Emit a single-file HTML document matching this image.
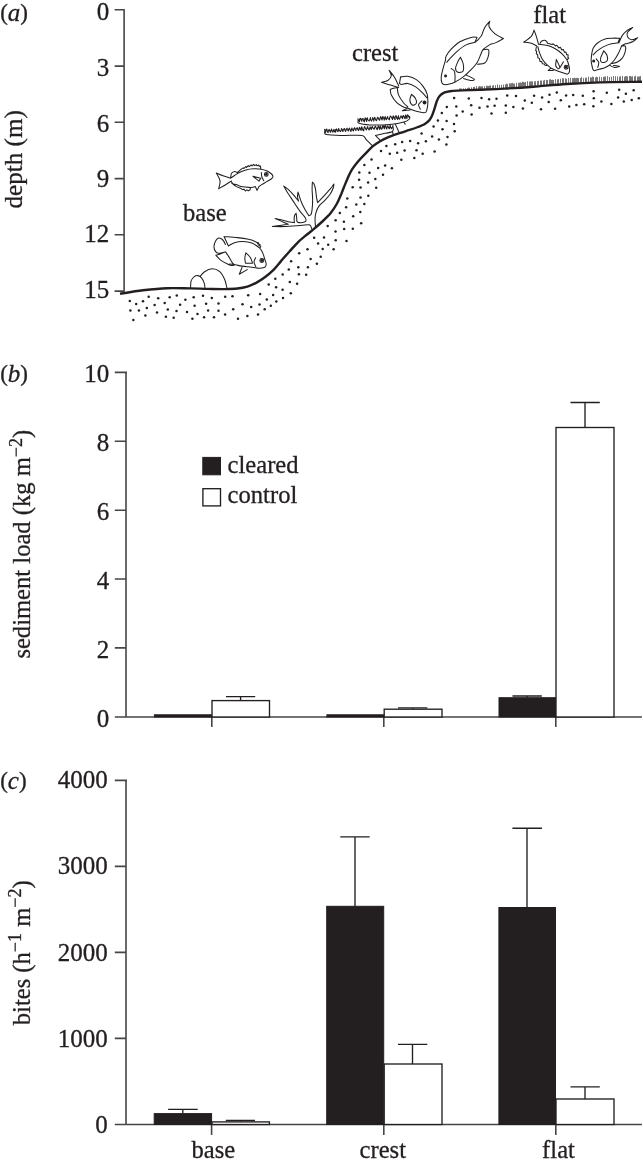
<!DOCTYPE html>
<html lang="en">
<head>
<meta charset="utf-8">
<title>Figure</title>
<style>
html,body{margin:0;padding:0;background:#fff;}
body{width:643px;height:1163px;overflow:hidden;}
svg{display:block;}
text{font-family:"Liberation Serif","Times New Roman",serif;fill:#231f20;stroke:#231f20;stroke-width:.3px;}
.n{font-size:25px;text-anchor:end;}
.l{font-size:24.6px;}
.c{font-size:24.6px;text-anchor:middle;}
.p{font-size:25px;}
.pi{font-style:italic;}
.pp{font-size:23px;}
.ax{stroke:#464646;stroke-width:1.6;fill:none;}
.bk{fill:#231f20;stroke:#231f20;stroke-width:1;}
.wh{fill:#fff;stroke:#231f20;stroke-width:1.35;}
.eb{stroke:#231f20;stroke-width:1.35;fill:none;}
</style>
</head>
<body>
<svg width="643" height="1163" viewBox="0 0 643 1163">
<rect width="643" height="1163" fill="#fff"/>

<!-- ================= PANEL A ================= -->
<g id="panelA">
<text class="p" x="0.2" y="20.8"><tspan class="pp" dy="-0.8">(</tspan><tspan class="pi" dy="0.8">a</tspan><tspan class="pp" dy="-0.8">)</tspan></text>
<path class="ax" d="M124.1 9.8V291.8M114.6 9.8H124.8M114.6 66.1H124.1M114.6 122.3H124.1M114.6 178.6H124.1M114.6 234.8H124.1M114.6 291.1H124.1"/>
<text class="n" x="109.3" y="20.4">0</text>
<text class="n" x="109.3" y="76.1">3</text>
<text class="n" x="109.3" y="131.7">6</text>
<text class="n" x="109.3" y="186.8">9</text>
<text class="n" x="109.3" y="241.9">12</text>
<text class="n" x="109.3" y="297.5">15</text>
<text class="c" style="font-size:25.1px" transform="translate(21.5 159.3) rotate(-90)">depth (m)</text>
<text class="l" x="183" y="221">base</text>
<text class="l" x="352" y="60.6">crest</text>
<text class="l" x="533.3" y="23.3">flat</text>
<!--ILLUSTRATION-->
<path d="M120.0 293.8C123.8 293.2 135.2 291.2 143.0 290.3C150.8 289.4 159.2 288.5 167.0 288.2C174.8 287.9 183.2 288.3 190.0 288.4C196.8 288.5 202.2 288.8 208.0 288.9C213.8 289.0 220.1 289.2 225.0 289.1C229.9 289.0 233.7 288.9 237.4 288.5C241.1 288.1 244.3 287.5 247.4 286.6C250.5 285.7 253.2 284.4 256.1 282.9C259.0 281.3 261.9 279.5 264.8 277.3C267.7 275.1 270.8 272.5 273.5 269.8C276.2 267.1 278.3 264.2 281.0 261.1C283.7 258.0 286.8 254.4 289.7 251.2C292.6 248.0 295.8 244.3 298.4 241.8C300.9 239.3 302.6 238.2 305.0 236.2C307.4 234.2 310.3 232.1 313.1 229.7C315.9 227.3 318.9 224.7 321.8 222.0C324.7 219.3 328.0 216.4 330.5 213.3C333.0 210.2 335.2 206.8 337.0 203.5C338.8 200.2 339.9 197.1 341.4 193.7C342.8 190.3 344.1 186.7 345.7 182.9C347.3 179.1 349.1 174.6 351.2 170.9C353.3 167.2 356.2 163.8 358.5 161.0C360.8 158.2 362.8 156.2 365.2 153.8C367.6 151.4 370.1 148.5 372.6 146.4C375.1 144.3 377.5 142.8 380.1 141.2C382.8 139.6 385.3 138.4 388.5 137.1C391.7 135.8 396.1 134.3 399.5 133.2C402.9 132.0 405.6 131.2 408.7 130.2C411.8 129.2 415.4 128.0 418.0 127.0C420.6 126.0 422.6 125.3 424.5 124.2C426.4 123.1 427.9 121.8 429.2 120.4C430.4 119.0 431.1 117.7 432.0 115.8C432.9 113.9 433.5 111.6 434.3 109.3C435.1 107.0 435.8 104.0 436.6 101.8C437.5 99.6 438.1 97.7 439.4 96.2C440.6 94.7 442.3 93.5 444.1 92.7C445.9 91.9 447.0 91.6 450.0 91.2C453.0 90.8 457.2 90.7 462.1 90.4C467.0 90.2 472.4 90.0 479.5 89.7C486.6 89.4 495.4 89.1 504.4 88.6C513.4 88.1 523.0 87.5 533.4 86.7C543.8 85.9 555.6 84.7 566.7 84.0C577.8 83.3 587.5 82.8 600.0 82.4C612.5 82.0 635.0 81.9 642.0 81.8" fill="none" stroke="#231f20" stroke-width="2.4" stroke-linecap="butt"/>
<path d="M459.5 89.9 v-1.4M460.5 89.9 v-1.5M461.5 89.8 v-1.3M463.5 89.7 v-1.4M465.5 89.6 v-1.4M467.5 89.6 v-1.7M468.5 89.5 v-2.0M469.5 89.5 v-1.8M471.5 89.4 v-2.1M473.5 89.3 v-2.3M474.5 89.3 v-2.5M476.5 89.2 v-2.9M478.5 89.1 v-2.6M479.5 89.1 v-3.0M480.5 89.0 v-2.7M481.5 89.0 v-2.5M482.5 89.0 v-2.8M484.5 88.9 v-2.6M486.5 88.8 v-3.1M487.5 88.8 v-3.0M488.5 88.7 v-2.7M489.5 88.7 v-3.1M490.5 88.6 v-3.2M492.5 88.6 v-2.9M493.5 88.5 v-3.3M495.5 88.4 v-3.2M497.5 88.3 v-3.9M499.5 88.2 v-3.3M501.5 88.1 v-3.3M503.5 88.0 v-3.5M505.5 87.9 v-3.6M506.5 87.9 v-4.3M507.5 87.8 v-3.9M509.5 87.7 v-4.5M510.5 87.6 v-4.1M511.5 87.6 v-4.4M512.5 87.5 v-4.6M513.5 87.4 v-3.8M514.5 87.4 v-3.8M516.5 87.2 v-4.4M518.5 87.1 v-4.3M519.5 87.1 v-4.4M520.5 87.0 v-4.6M521.5 86.9 v-4.2M522.5 86.8 v-5.1M523.5 86.8 v-4.9M524.5 86.7 v-4.3M525.5 86.6 v-4.6M527.5 86.5 v-5.4M529.5 86.4 v-4.9M530.5 86.3 v-4.9M531.5 86.2 v-4.8M532.5 86.1 v-4.9M534.5 86.0 v-4.6M535.5 85.9 v-4.7M537.5 85.8 v-4.6M538.5 85.7 v-4.9M540.5 85.5 v-5.0M541.5 85.4 v-4.9M543.5 85.3 v-4.8M544.5 85.2 v-5.3M546.5 85.0 v-5.1M547.5 84.9 v-4.9M549.5 84.7 v-5.2M550.5 84.6 v-5.5M551.5 84.6 v-4.6M552.5 84.5 v-4.7M553.5 84.4 v-4.5M555.5 84.2 v-5.1M557.5 84.1 v-4.8M558.5 84.0 v-4.9M560.5 83.8 v-5.1M562.5 83.7 v-5.5M563.5 83.6 v-5.4M565.5 83.5 v-5.2M566.5 83.4 v-4.6M568.5 83.3 v-5.3M570.5 83.1 v-5.2M572.5 83.0 v-4.9M573.5 83.0 v-4.9M574.5 82.9 v-5.1M575.5 82.9 v-4.7M576.5 82.8 v-4.9M577.5 82.7 v-4.8M578.5 82.7 v-4.6M580.5 82.6 v-4.7M581.5 82.5 v-5.4M583.5 82.4 v-4.5M585.5 82.3 v-4.7M586.5 82.3 v-4.6M588.5 82.2 v-5.5M590.5 82.1 v-4.9M591.5 82.1 v-4.6M592.5 82.0 v-5.5M593.5 82.0 v-5.0M595.5 81.9 v-4.6M596.5 81.9 v-5.2M597.5 81.9 v-4.8M599.5 81.8 v-5.2M601.5 81.7 v-4.5M603.5 81.7 v-4.9M604.5 81.7 v-5.0M605.5 81.7 v-5.3M607.5 81.6 v-5.5M609.5 81.6 v-4.6M611.5 81.5 v-4.8M613.5 81.5 v-5.4M615.5 81.5 v-5.3M617.5 81.5 v-5.0M619.5 81.4 v-4.8M620.5 81.4 v-5.1M622.5 81.4 v-5.5M624.5 81.4 v-4.7M625.5 81.4 v-5.3M626.5 81.4 v-5.3M627.5 81.4 v-5.0M629.5 81.3 v-5.2M630.5 81.3 v-5.3M631.5 81.3 v-4.8M632.5 81.3 v-5.1M634.5 81.3 v-4.9M635.5 81.3 v-5.5M637.5 81.2 v-4.6M638.5 81.2 v-4.7M639.5 81.2 v-4.8M640.5 81.2 v-5.1" fill="none" stroke="#231f20" stroke-width="0.62"/>
<g fill="#231f20"><circle cx="283.0" cy="297.9" r="1.25"/><circle cx="456.3" cy="106.5" r="1.25"/><circle cx="425.9" cy="141.3" r="1.25"/><circle cx="206.1" cy="303.7" r="1.25"/><circle cx="496.5" cy="98.8" r="1.25"/><circle cx="270.8" cy="305.8" r="1.25"/><circle cx="136.2" cy="304.1" r="1.25"/><circle cx="307.5" cy="249.2" r="1.25"/><circle cx="353.2" cy="216.3" r="1.25"/><circle cx="542.1" cy="97.6" r="1.25"/><circle cx="298.9" cy="274.2" r="1.25"/><circle cx="397.2" cy="152.8" r="1.25"/><circle cx="414.3" cy="158.1" r="1.25"/><circle cx="481.5" cy="98.1" r="1.25"/><circle cx="371.5" cy="159.4" r="1.25"/><circle cx="333.6" cy="249.2" r="1.25"/><circle cx="259.5" cy="304.4" r="1.25"/><circle cx="157.0" cy="312.6" r="1.25"/><circle cx="164.7" cy="303.0" r="1.25"/><circle cx="347.3" cy="198.5" r="1.25"/><circle cx="185.4" cy="299.8" r="1.25"/><circle cx="446.8" cy="107.0" r="1.25"/><circle cx="176.8" cy="295.5" r="1.25"/><circle cx="524.8" cy="100.6" r="1.25"/><circle cx="310.6" cy="259.1" r="1.25"/><circle cx="432.1" cy="136.6" r="1.25"/><circle cx="369.5" cy="172.7" r="1.25"/><circle cx="437.9" cy="120.4" r="1.25"/><circle cx="260.1" cy="294.1" r="1.25"/><circle cx="548.7" cy="102.1" r="1.25"/><circle cx="494.6" cy="105.7" r="1.25"/><circle cx="282.7" cy="274.6" r="1.25"/><circle cx="479.5" cy="107.8" r="1.25"/><circle cx="328.2" cy="244.7" r="1.25"/><circle cx="297.1" cy="283.8" r="1.25"/><circle cx="368.1" cy="182.4" r="1.25"/><circle cx="356.3" cy="204.6" r="1.25"/><circle cx="143.0" cy="301.2" r="1.25"/><circle cx="225.2" cy="296.8" r="1.25"/><circle cx="318.1" cy="243.5" r="1.25"/><circle cx="434.6" cy="151.4" r="1.25"/><circle cx="633.7" cy="90.2" r="1.25"/><circle cx="438.9" cy="139.4" r="1.25"/><circle cx="238.0" cy="318.8" r="1.25"/><circle cx="410.1" cy="141.0" r="1.25"/><circle cx="169.7" cy="297.3" r="1.25"/><circle cx="268.7" cy="284.4" r="1.25"/><circle cx="593.6" cy="91.3" r="1.25"/><circle cx="573.2" cy="95.0" r="1.25"/><circle cx="298.3" cy="267.3" r="1.25"/><circle cx="314.1" cy="237.7" r="1.25"/><circle cx="273.1" cy="294.9" r="1.25"/><circle cx="638.8" cy="98.2" r="1.25"/><circle cx="389.8" cy="153.7" r="1.25"/><circle cx="335.5" cy="231.4" r="1.25"/><circle cx="289.8" cy="281.9" r="1.25"/><circle cx="291.1" cy="261.3" r="1.25"/><circle cx="339.8" cy="212.9" r="1.25"/><circle cx="320.7" cy="256.8" r="1.25"/><circle cx="513.4" cy="107.0" r="1.25"/><circle cx="359.3" cy="172.4" r="1.25"/><circle cx="468.8" cy="98.6" r="1.25"/><circle cx="299.2" cy="253.3" r="1.25"/><circle cx="619.2" cy="89.8" r="1.25"/><circle cx="395.2" cy="144.2" r="1.25"/><circle cx="383.0" cy="174.8" r="1.25"/><circle cx="232.5" cy="296.3" r="1.25"/><circle cx="276.1" cy="287.2" r="1.25"/><circle cx="385.1" cy="165.6" r="1.25"/><circle cx="582.8" cy="95.7" r="1.25"/><circle cx="491.5" cy="113.4" r="1.25"/><circle cx="360.5" cy="197.5" r="1.25"/><circle cx="327.7" cy="226.0" r="1.25"/><circle cx="275.3" cy="278.7" r="1.25"/><circle cx="307.9" cy="267.2" r="1.25"/><circle cx="204.1" cy="317.3" r="1.25"/><circle cx="352.7" cy="187.2" r="1.25"/><circle cx="516.0" cy="96.0" r="1.25"/><circle cx="606.8" cy="92.7" r="1.25"/><circle cx="442.5" cy="129.2" r="1.25"/><circle cx="454.1" cy="97.9" r="1.25"/><circle cx="375.3" cy="179.1" r="1.25"/><circle cx="344.2" cy="228.9" r="1.25"/><circle cx="335.7" cy="240.2" r="1.25"/><circle cx="416.5" cy="150.2" r="1.25"/><circle cx="288.8" cy="269.6" r="1.25"/><circle cx="556.8" cy="92.6" r="1.25"/><circle cx="507.2" cy="95.5" r="1.25"/><circle cx="158.2" cy="298.3" r="1.25"/><circle cx="593.8" cy="98.3" r="1.25"/><circle cx="148.7" cy="296.8" r="1.25"/><circle cx="456.6" cy="115.4" r="1.25"/><circle cx="531.8" cy="102.8" r="1.25"/><circle cx="368.3" cy="195.8" r="1.25"/><circle cx="623.8" cy="101.6" r="1.25"/><circle cx="173.7" cy="317.7" r="1.25"/><circle cx="138.9" cy="310.6" r="1.25"/><circle cx="193.7" cy="297.3" r="1.25"/><circle cx="343.9" cy="221.8" r="1.25"/><circle cx="130.4" cy="310.6" r="1.25"/><circle cx="446.6" cy="121.0" r="1.25"/><circle cx="346.5" cy="240.9" r="1.25"/><circle cx="247.4" cy="316.1" r="1.25"/><circle cx="194.6" cy="305.8" r="1.25"/><circle cx="421.6" cy="133.6" r="1.25"/><circle cx="335.6" cy="220.3" r="1.25"/><circle cx="306.2" cy="274.7" r="1.25"/><circle cx="447.5" cy="136.9" r="1.25"/><circle cx="187.0" cy="311.9" r="1.25"/><circle cx="381.0" cy="151.1" r="1.25"/><circle cx="251.2" cy="307.1" r="1.25"/><circle cx="352.8" cy="228.8" r="1.25"/><circle cx="611.4" cy="104.0" r="1.25"/><circle cx="324.0" cy="237.4" r="1.25"/><circle cx="601.4" cy="101.6" r="1.25"/><circle cx="418.1" cy="143.2" r="1.25"/><circle cx="218.5" cy="303.5" r="1.25"/><circle cx="218.5" cy="310.7" r="1.25"/><circle cx="471.2" cy="105.3" r="1.25"/><circle cx="211.8" cy="298.0" r="1.25"/><circle cx="471.6" cy="114.5" r="1.25"/><circle cx="233.2" cy="309.2" r="1.25"/><circle cx="364.3" cy="204.1" r="1.25"/><circle cx="225.1" cy="314.6" r="1.25"/><circle cx="360.5" cy="187.4" r="1.25"/><circle cx="534.1" cy="95.7" r="1.25"/><circle cx="631.7" cy="100.1" r="1.25"/><circle cx="391.9" cy="168.2" r="1.25"/><circle cx="541.0" cy="109.2" r="1.25"/><circle cx="129.8" cy="300.9" r="1.25"/><circle cx="146.8" cy="307.9" r="1.25"/><circle cx="145.4" cy="315.5" r="1.25"/><circle cx="242.5" cy="304.3" r="1.25"/><circle cx="401.3" cy="159.8" r="1.25"/><circle cx="404.6" cy="150.6" r="1.25"/><circle cx="360.3" cy="211.9" r="1.25"/><circle cx="248.2" cy="295.2" r="1.25"/><circle cx="197.5" cy="314.0" r="1.25"/><circle cx="376.2" cy="187.8" r="1.25"/><circle cx="290.8" cy="293.2" r="1.25"/><circle cx="566.1" cy="95.6" r="1.25"/><circle cx="378.1" cy="168.1" r="1.25"/><circle cx="192.4" cy="318.8" r="1.25"/><circle cx="454.7" cy="131.3" r="1.25"/><circle cx="167.8" cy="309.6" r="1.25"/><circle cx="576.4" cy="105.1" r="1.25"/><circle cx="433.6" cy="126.4" r="1.25"/><circle cx="346.1" cy="207.2" r="1.25"/><circle cx="560.8" cy="100.3" r="1.25"/><circle cx="446.4" cy="144.6" r="1.25"/><circle cx="276.3" cy="301.5" r="1.25"/><circle cx="454.0" cy="123.9" r="1.25"/><circle cx="214.0" cy="317.2" r="1.25"/><circle cx="487.5" cy="106.4" r="1.25"/><circle cx="422.7" cy="153.7" r="1.25"/><circle cx="203.0" cy="295.8" r="1.25"/><circle cx="386.4" cy="145.9" r="1.25"/><circle cx="264.7" cy="309.3" r="1.25"/><circle cx="258.0" cy="314.5" r="1.25"/><circle cx="441.8" cy="112.9" r="1.25"/><circle cx="584.2" cy="104.3" r="1.25"/><circle cx="282.6" cy="289.8" r="1.25"/><circle cx="625.9" cy="93.8" r="1.25"/><circle cx="176.5" cy="311.0" r="1.25"/><circle cx="505.8" cy="112.8" r="1.25"/><circle cx="555.1" cy="108.7" r="1.25"/><circle cx="133.4" cy="320.0" r="1.25"/><circle cx="618.1" cy="97.5" r="1.25"/><circle cx="359.1" cy="179.7" r="1.25"/><circle cx="322.7" cy="249.0" r="1.25"/><circle cx="266.8" cy="299.6" r="1.25"/><circle cx="154.6" cy="305.0" r="1.25"/><circle cx="505.8" cy="105.4" r="1.25"/><circle cx="593.4" cy="106.2" r="1.25"/><circle cx="180.1" cy="304.7" r="1.25"/><circle cx="489.1" cy="99.2" r="1.25"/><circle cx="402.1" cy="142.0" r="1.25"/><circle cx="361.2" cy="223.2" r="1.25"/><circle cx="569.2" cy="106.4" r="1.25"/><circle cx="549.5" cy="94.8" r="1.25"/><circle cx="165.9" cy="316.8" r="1.25"/><circle cx="364.4" cy="164.9" r="1.25"/><circle cx="316.9" cy="263.8" r="1.25"/><circle cx="522.9" cy="108.5" r="1.25"/><circle cx="462.7" cy="111.5" r="1.25"/><circle cx="208.1" cy="310.6" r="1.25"/></g>
<g transform="translate(210 155) scale(0.10886)" fill="none" stroke="#231f20" stroke-width="9.65" stroke-linejoin="round" stroke-linecap="round">
<path d="M188.0 213.0C176.7 209.2 141.7 198.0 120.0 190.0C98.3 182.0 68.3 169.2 58.0 165.0M58.0 165.0C63.7 176.7 88.3 210.8 92.0 235.0C95.7 259.2 82.0 297.5 80.0 310.0M80.0 310.0C90.0 304.2 120.8 286.7 140.0 275.0C159.2 263.3 185.8 245.8 195.0 240.0M188.0 213.0C194.2 208.8 211.3 196.8 225.0 188.0C238.7 179.2 252.5 168.5 270.0 160.0C287.5 151.5 308.3 142.5 330.0 137.0C351.7 131.5 376.7 128.2 400.0 127.0C423.3 125.8 450.0 127.0 470.0 130.0C490.0 133.0 505.0 138.3 520.0 145.0C535.0 151.7 550.3 161.7 560.0 170.0C569.7 178.3 577.2 187.0 578.0 195.0C578.8 203.0 574.7 209.7 565.0 218.0C555.3 226.3 535.0 236.0 520.0 245.0C505.0 254.0 486.7 264.5 475.0 272.0C463.3 279.5 454.2 287.0 450.0 290.0M450 290L432 325L416 290M416.0 290.0C412.5 291.0 402.3 294.7 395.0 296.0C387.7 297.3 375.8 297.7 372.0 298.0M372 298L368 320L352 328L338 320L325 331L312 314L298 318L282 306M282.0 306.0C275.0 303.0 252.0 294.8 240.0 288.0C228.0 281.2 217.5 273.0 210.0 265.0C202.5 257.0 197.5 244.2 195.0 240.0M200.0 262.0C206.7 263.7 223.3 267.0 240.0 272.0C256.7 277.0 278.0 287.7 300.0 292.0C322.0 296.3 360.0 297.0 372.0 298.0M190.0 207.0C191.3 200.5 191.7 177.2 198.0 168.0C204.3 158.8 219.3 153.0 228.0 152.0C236.7 151.0 246.3 160.3 250.0 162.0M250 162L290 128L305 118L312 124L328 106L336 114L352 97L360 106L378 90L386 100L402 86L410 98L426 88L432 100L448 92L452 104L462 100L468 128M395 196L450 240L466 214L395 196M472.0 162.0C472.7 168.3 472.3 187.7 476.0 200.0C479.7 212.3 491.0 230.0 494.0 236.0"/>
<circle cx="517" cy="178" r="17"/>
<circle cx="517" cy="178" r="12" fill="#231f20" stroke="none"/>
</g>
<g transform="translate(205 230) scale(0.10886)" fill="none" stroke="#231f20" stroke-width="9.65" stroke-linejoin="round" stroke-linecap="round">
<path d="M188.0 132.0C185.0 126.7 176.3 108.7 170.0 100.0C163.7 91.3 158.3 84.0 150.0 80.0C141.7 76.0 129.2 71.8 120.0 76.0C110.8 80.2 101.3 91.8 95.0 105.0C88.7 118.2 81.5 139.5 82.0 155.0C82.5 170.5 90.0 188.2 98.0 198.0C106.0 207.8 115.0 213.7 130.0 214.0C145.0 214.3 178.3 202.3 188.0 200.0M215 147L175 60M175.0 60.0C195.8 61.7 262.5 65.7 300.0 70.0C337.5 74.3 372.5 79.7 400.0 86.0C427.5 92.3 447.5 99.3 465.0 108.0C482.5 116.7 498.3 133.0 505.0 138.0M470 112L492 118L484 128L504 132L494 142L512 150L505 165M215.0 147.0C224.2 141.8 247.5 123.0 270.0 116.0C292.5 109.0 323.3 104.3 350.0 105.0C376.7 105.7 405.0 110.0 430.0 120.0C455.0 130.0 483.3 150.0 500.0 165.0C516.7 180.0 522.2 193.8 530.0 210.0C537.8 226.2 541.7 245.0 547.0 262.0C552.3 279.0 561.5 298.7 562.0 312.0C562.5 325.3 561.7 335.3 550.0 342.0C538.3 348.7 501.7 350.3 492.0 352.0M492.0 352.0C481.7 350.3 455.3 345.3 430.0 342.0C404.7 338.7 365.0 335.7 340.0 332.0C315.0 328.3 299.2 323.3 280.0 320.0C260.8 316.7 234.2 313.3 225.0 312.0M100.0 232.0C106.7 230.0 125.3 225.3 140.0 220.0C154.7 214.7 180.0 203.3 188.0 200.0M100.0 232.0C108.3 240.3 130.8 268.0 150.0 282.0C169.2 296.0 199.2 308.7 215.0 316.0C230.8 323.3 235.8 325.0 245.0 326.0C254.2 327.0 265.8 322.7 270.0 322.0M188.0 200.0C192.5 206.7 204.7 223.3 215.0 240.0C225.3 256.7 240.5 286.7 250.0 300.0C259.5 313.3 268.3 316.7 272.0 320.0M340 345L315 406L388 364M375.0 210.0C373.5 218.3 366.5 244.2 366.0 260.0C365.5 275.8 371.0 297.5 372.0 305.0M372.0 305.0C377.5 305.2 394.2 306.2 405.0 306.0C415.8 305.8 431.7 304.3 437.0 304.0M437.0 304.0C433.3 295.0 425.3 265.7 415.0 250.0C404.7 234.3 381.7 216.7 375.0 210.0M465.0 255.0C462.5 261.7 449.8 281.5 450.0 295.0C450.2 308.5 463.3 329.2 466.0 336.0"/>
<circle cx="522" cy="280" r="18"/>
<circle cx="522" cy="280" r="13" fill="#231f20" stroke="none"/>
</g>
<g transform="translate(375 60) scale(0.10886)" fill="none" stroke="#231f20" stroke-width="9.65" stroke-linejoin="round" stroke-linecap="round">
<path d="M218.0 238.0C211.7 225.0 194.7 183.8 180.0 160.0C165.3 136.2 138.3 105.8 130.0 95.0M130.0 95.0C133.3 103.3 152.0 129.5 150.0 145.0C148.0 160.5 133.0 178.0 118.0 188.0C103.0 198.0 69.7 202.2 60.0 205.0M60.0 205.0C71.7 208.8 103.7 220.2 130.0 228.0C156.3 235.8 203.3 248.0 218.0 252.0M225 215L235 155M235.0 155.0C245.8 154.2 275.8 145.8 300.0 150.0C324.2 154.2 356.7 165.0 380.0 180.0C403.3 195.0 423.7 218.3 440.0 240.0C456.3 261.7 470.3 286.7 478.0 310.0C485.7 333.3 484.7 368.3 486.0 380.0M225.0 215.0C228.3 216.7 232.5 225.0 245.0 225.0C257.5 225.0 279.2 211.7 300.0 215.0C320.8 218.3 348.3 231.7 370.0 245.0C391.7 258.3 412.3 278.2 430.0 295.0C447.7 311.8 468.3 337.5 476.0 346.0M486.0 380.0C485.3 388.3 485.3 413.0 482.0 430.0C478.7 447.0 476.0 473.7 466.0 482.0C456.0 490.3 441.3 483.3 422.0 480.0C402.7 476.7 370.3 468.3 350.0 462.0C329.7 455.7 308.3 445.3 300.0 442.0M140.0 270.0C145.0 268.3 159.2 262.5 170.0 260.0C180.8 257.5 199.2 255.8 205.0 255.0M140.0 270.0C141.7 278.7 140.0 301.7 150.0 322.0C160.0 342.3 181.7 373.7 200.0 392.0C218.3 410.3 243.3 423.7 260.0 432.0C276.7 440.3 293.3 440.3 300.0 442.0M205.0 258.0C206.8 268.3 206.8 298.0 216.0 320.0C225.2 342.0 245.7 371.3 260.0 390.0C274.3 408.7 295.0 425.0 302.0 432.0M300 442L252 466L322 460M335.0 315.0C332.5 324.2 318.3 353.3 320.0 370.0C321.7 386.7 335.0 410.7 345.0 415.0C355.0 419.3 375.8 406.8 380.0 396.0C384.2 385.2 377.5 363.5 370.0 350.0C362.5 336.5 340.8 320.8 335.0 315.0M430.0 375.0C425.0 380.8 402.3 397.2 400.0 410.0C397.7 422.8 413.3 445.0 416.0 452.0"/>
<circle cx="455" cy="390" r="18" fill="#231f20" stroke="none"/>
</g>
<g transform="translate(435 15) scale(0.12438)" fill="none" stroke="#231f20" stroke-width="8.44" stroke-linejoin="round" stroke-linecap="round">
<path d="M375.0 165.0C379.2 154.2 389.2 119.2 400.0 100.0C410.8 80.8 433.3 58.3 440.0 50.0M440.0 50.0C439.2 57.5 428.3 78.3 435.0 95.0C441.7 111.7 460.8 134.2 480.0 150.0C499.2 165.8 538.3 183.3 550.0 190.0M550.0 190.0C540.0 195.3 507.5 214.3 490.0 222.0C472.5 229.7 452.5 233.7 445.0 236.0M338.0 180.0C330.0 180.0 313.0 174.2 290.0 180.0C267.0 185.8 226.7 199.2 200.0 215.0C173.3 230.8 148.3 255.8 130.0 275.0C111.7 294.2 97.7 314.8 90.0 330.0C82.3 345.2 85.0 360.0 84.0 366.0M375.0 165.0C370.8 170.0 359.2 185.8 350.0 195.0C340.8 204.2 325.0 215.8 320.0 220.0M338 180L320 220M320.0 220.0C308.3 223.3 273.3 228.3 250.0 240.0C226.7 251.7 201.7 271.7 180.0 290.0C158.3 308.3 134.2 335.0 120.0 350.0C105.8 365.0 99.2 375.0 95.0 380.0M84.0 366.0C80.8 376.7 70.7 407.7 65.0 430.0C59.3 452.3 51.5 480.7 50.0 500.0C48.5 519.3 50.7 536.0 56.0 546.0C61.3 556.0 69.7 559.2 82.0 560.0C94.3 560.8 117.0 554.3 130.0 551.0C143.0 547.7 155.0 541.8 160.0 540.0M160.0 540.0C171.7 532.5 208.3 511.7 230.0 495.0C251.7 478.3 271.7 459.2 290.0 440.0C308.3 420.8 326.7 401.3 340.0 380.0C353.3 358.7 362.0 329.3 370.0 312.0C378.0 294.7 375.5 288.7 388.0 276.0C400.5 263.3 435.5 242.7 445.0 236.0M388.0 279.0C395.0 279.2 423.7 269.8 430.0 280.0C436.3 290.2 431.0 322.3 426.0 340.0C421.0 357.7 414.0 376.7 400.0 386.0C386.0 395.3 351.7 394.3 342.0 396.0M245.0 480.0C256.7 486.0 307.5 508.3 315.0 516.0C322.5 523.7 304.2 527.0 290.0 526.0C275.8 525.0 240.0 512.7 230.0 510.0M205.0 340.0C208.5 348.3 222.5 371.7 226.0 390.0C229.5 408.3 232.7 438.2 226.0 450.0C219.3 461.8 196.2 464.3 186.0 461.0C175.8 457.7 165.2 444.8 165.0 430.0C164.8 415.2 178.3 387.0 185.0 372.0C191.7 357.0 201.7 345.3 205.0 340.0M130.0 430.0C134.2 433.3 149.8 440.0 155.0 450.0C160.2 460.0 160.2 475.0 161.0 490.0C161.8 505.0 160.2 531.7 160.0 540.0"/>
<circle cx="85" cy="490" r="12" fill="#231f20" stroke="none"/>
</g>
<g transform="translate(515 22) scale(0.10886)" fill="none" stroke="#231f20" stroke-width="9.65" stroke-linejoin="round" stroke-linecap="round">
<path d="M215.0 202.0C211.8 190.3 202.7 153.2 196.0 132.0C189.3 110.8 178.5 84.5 175.0 75.0M175.0 75.0C170.8 84.5 165.8 113.7 150.0 132.0C134.2 150.3 91.7 176.2 80.0 185.0M80.0 185.0C91.7 186.8 130.0 190.0 150.0 196.0C170.0 202.0 191.7 216.8 200.0 221.0M230.0 196.0C232.7 192.5 237.7 179.3 246.0 175.0C254.3 170.7 271.0 166.7 280.0 170.0C289.0 173.3 296.7 190.8 300.0 195.0M215.0 205.0C229.2 206.7 274.2 208.3 300.0 215.0C325.8 221.7 348.3 232.5 370.0 245.0C391.7 257.5 412.5 273.3 430.0 290.0C447.5 306.7 464.2 326.7 475.0 345.0C485.8 363.3 490.7 384.2 495.0 400.0C499.3 415.8 500.8 429.0 501.0 440.0C501.2 451.0 499.5 459.5 496.0 466.0C492.5 472.5 482.7 476.8 480.0 479.0M300 196L340 206L350 200L372 220L384 214L402 238L416 232L430 256L444 252L454 278L468 276L474 300L488 302L486 326L494 332L480 346M480.0 479.0C473.3 476.8 456.7 471.5 440.0 466.0C423.3 460.5 398.3 453.0 380.0 446.0C361.7 439.0 338.3 427.7 330.0 424.0M330 422L305 446L352 446M330.0 422.0C323.3 416.7 303.3 403.7 290.0 390.0C276.7 376.3 260.8 358.0 250.0 340.0C239.2 322.0 231.7 301.0 225.0 282.0C218.3 263.0 212.5 235.3 210.0 226.0M196 230L190 262L198 268L196 292L208 300L210 328L224 334L230 362L246 364L252 384L270 386L276 398L292 400M380.0 345.0C379.0 354.2 371.5 385.8 374.0 400.0C376.5 414.2 391.5 425.0 395.0 430.0M395.0 430.0C397.8 428.0 411.8 426.7 412.0 418.0C412.2 409.3 401.3 390.2 396.0 378.0C390.7 365.8 382.7 350.5 380.0 345.0M445 365L414 418"/>
<circle cx="470" cy="415" r="18"/>
<circle cx="470" cy="415" r="12" fill="#231f20" stroke="none"/>
</g>
<g transform="translate(578 20) scale(0.10109)" fill="none" stroke="#231f20" stroke-width="10.39" stroke-linejoin="round" stroke-linecap="round">
<path d="M405.0 226.0C410.8 213.3 425.8 171.0 440.0 150.0C454.2 129.0 473.3 112.5 490.0 100.0C506.7 87.5 531.7 79.2 540.0 75.0M540.0 75.0C531.7 82.8 498.3 106.8 490.0 122.0C481.7 137.2 483.3 153.7 490.0 166.0C496.7 178.3 513.3 194.5 530.0 196.0C546.7 197.5 580.0 178.5 590.0 175.0M590.0 175.0C581.7 181.8 560.0 205.8 540.0 216.0C520.0 226.2 488.3 229.3 470.0 236.0C451.7 242.7 436.7 252.7 430.0 256.0M412.0 180.0C400.0 180.0 365.3 178.3 340.0 180.0C314.7 181.7 285.0 181.7 260.0 190.0C235.0 198.3 208.3 215.0 190.0 230.0C171.7 245.0 159.2 261.7 150.0 280.0C140.8 298.3 137.5 330.0 135.0 340.0M412 180L396 226M396.0 226.0C385.0 227.7 354.3 229.3 330.0 236.0C305.7 242.7 273.3 254.3 250.0 266.0C226.7 277.7 206.7 292.7 190.0 306.0C173.3 319.3 156.7 339.3 150.0 346.0M135.0 340.0C134.2 350.0 129.2 380.0 130.0 400.0C130.8 420.0 135.7 443.3 140.0 460.0C144.3 476.7 146.0 495.0 156.0 500.0C166.0 505.0 182.7 494.2 200.0 490.0C217.3 485.8 250.0 477.5 260.0 475.0M260.0 475.0C268.3 470.2 293.3 459.2 310.0 446.0C326.7 432.8 345.0 415.3 360.0 396.0C375.0 376.7 388.3 352.7 400.0 330.0C411.7 307.3 425.0 271.7 430.0 260.0M440.0 256.0C445.0 257.0 465.8 251.3 470.0 262.0C474.2 272.7 470.7 300.3 465.0 320.0C459.3 339.7 448.5 364.0 436.0 380.0C423.5 396.0 406.0 407.5 390.0 416.0C374.0 424.5 348.3 428.5 340.0 431.0M310.0 446.0C318.3 450.0 343.3 467.7 360.0 470.0C376.7 472.3 401.7 461.7 410.0 460.0M410.0 460.0C405.0 458.7 390.0 453.7 380.0 452.0C370.0 450.3 355.0 450.3 350.0 450.0M255.0 305.0C250.2 315.8 230.8 352.5 226.0 370.0C221.2 387.5 220.3 401.7 226.0 410.0C231.7 418.3 249.3 421.7 260.0 420.0C270.7 418.3 285.7 412.3 290.0 400.0C294.3 387.7 291.8 361.8 286.0 346.0C280.2 330.2 260.2 311.8 255.0 305.0M180.0 385.0C184.2 390.8 202.3 405.8 205.0 420.0C207.7 434.2 197.5 461.7 196.0 470.0"/>
<circle cx="155" cy="405" r="15" fill="#231f20" stroke="none"/>
</g>
<g transform="translate(268 178) scale(0.10886)" fill="none" stroke="#231f20" stroke-width="9.65" stroke-linejoin="round" stroke-linecap="round">
<path d="M436.0 442.0C435.3 431.7 431.3 400.3 432.0 380.0C432.7 359.7 434.0 340.3 440.0 320.0C446.0 299.7 454.7 276.7 468.0 258.0C481.3 239.3 503.0 226.0 520.0 208.0C537.0 190.0 556.7 169.7 570.0 150.0C583.3 130.3 594.2 105.8 600.0 90.0C605.8 74.2 604.2 60.8 605.0 55.0M605.0 55.0C601.7 60.0 594.2 73.3 585.0 85.0C575.8 96.7 564.2 109.2 550.0 125.0C535.8 140.8 515.7 163.2 500.0 180.0C484.3 196.8 463.3 218.3 456.0 226.0M456.0 226.0C454.3 218.3 449.3 201.0 446.0 180.0C442.7 159.0 440.0 121.3 436.0 100.0C432.0 78.7 426.7 62.3 422.0 52.0C417.3 41.7 410.3 40.3 408.0 38.0M408.0 38.0C407.5 48.3 404.7 73.0 405.0 100.0C405.3 127.0 410.0 168.3 410.0 200.0C410.0 231.7 407.5 267.5 405.0 290.0C402.5 312.5 400.0 325.7 395.0 335.0C390.0 344.3 378.3 344.2 375.0 346.0M375.0 346.0C369.2 336.7 350.8 309.3 340.0 290.0C329.2 270.7 318.0 248.3 310.0 230.0C302.0 211.7 297.7 196.7 292.0 180.0C286.3 163.3 278.7 138.3 276.0 130.0M276.0 130.0C275.2 136.7 270.3 156.3 271.0 170.0C271.7 183.7 278.5 205.0 280.0 212.0M280.0 212.0C271.7 201.7 246.7 168.7 230.0 150.0C213.3 131.3 194.2 112.5 180.0 100.0C165.8 87.5 150.8 79.2 145.0 75.0M145.0 75.0C149.5 82.8 157.8 99.5 172.0 122.0C186.2 144.5 210.3 180.3 230.0 210.0C249.7 239.7 272.5 275.8 290.0 300.0C307.5 324.2 325.0 340.8 335.0 355.0C345.0 369.2 350.0 376.7 350.0 385.0C350.0 393.3 346.3 400.8 335.0 405.0C323.7 409.2 293.7 411.2 282.0 410.0C270.3 408.8 267.8 400.0 265.0 398.0M265.0 398.0C264.7 391.7 264.2 372.3 263.0 360.0C261.8 347.7 258.8 330.0 258.0 324.0M258.0 324.0C255.8 327.0 248.0 332.7 245.0 342.0C242.0 351.3 240.3 368.7 240.0 380.0C239.7 391.3 242.5 405.0 243.0 410.0M243.0 410.0C235.8 409.2 218.8 409.0 200.0 405.0C181.2 401.0 152.5 391.5 130.0 386.0C107.5 380.5 75.8 374.3 65.0 372.0M65.0 372.0C74.2 376.0 99.8 387.2 120.0 396.0C140.2 404.8 175.0 420.2 186.0 425.0M186.0 425.0C173.3 426.8 134.3 432.7 110.0 436.0C85.7 439.3 51.7 443.5 40.0 445.0M40.0 445.0C58.3 445.2 106.7 447.5 150.0 446.0C193.3 444.5 261.7 438.7 300.0 436.0C338.3 433.3 363.0 425.0 380.0 430.0C397.0 435.0 398.3 460.0 402.0 466.0"/>
</g>
<g transform="translate(115 265) scale(0.18657)" fill="none" stroke="#231f20" stroke-width="5.63" stroke-linejoin="round" stroke-linecap="round">
<path d="M405.0 123.0C405.5 116.7 404.7 95.2 408.0 85.0C411.3 74.8 418.8 66.7 425.0 62.0C431.2 57.3 438.3 55.7 445.0 57.0C451.7 58.3 459.3 62.8 465.0 70.0C470.7 77.2 476.2 90.7 479.0 100.0C481.8 109.3 481.5 121.7 482.0 126.0M455.0 62.0C459.2 57.7 469.2 43.0 480.0 36.0C490.8 29.0 506.7 20.3 520.0 20.0C533.3 19.7 548.7 24.3 560.0 34.0C571.3 43.7 581.3 63.0 588.0 78.0C594.7 93.0 598.0 116.3 600.0 124.0"/>
</g>
<g transform="translate(320 105) scale(0.15552)" fill="none" stroke="#231f20" stroke-width="6.75" stroke-linejoin="round" stroke-linecap="round">
<path d="M245.0 100.0C245.8 103.0 237.5 113.3 250.0 118.0C262.5 122.7 286.7 126.8 320.0 128.0C353.3 129.2 413.3 128.0 450.0 125.0C486.7 122.0 519.2 115.8 540.0 110.0C560.8 104.2 569.0 96.3 575.0 90.0C581.0 83.7 575.8 75.0 576.0 72.0M486 126L510 180M540 110L548 124M30.0 170.0C32.0 173.3 22.0 185.7 42.0 190.0C62.0 194.3 112.0 195.0 150.0 196.0C188.0 197.0 245.0 191.0 270.0 196.0C295.0 201.0 288.0 214.3 300.0 226.0C312.0 237.7 335.0 259.3 342.0 266.0M470.0 142.0C469.3 146.7 477.7 162.7 466.0 170.0C454.3 177.3 418.3 181.7 400.0 186.0C381.7 190.3 363.3 194.3 356.0 196.0M356 196L392 232M466 170L472 196"/>
<path stroke-width="7.6" d="M244 89Q247 104 254 107Q252 89 261 86Q266 101 268 104Q266 89 277 87Q277 105 285 108Q287 87 291 83Q297 102 300 105Q298 86 305 83Q305 100 316 103Q325 85 324 81Q325 100 331 103Q341 85 338 82Q347 100 346 103Q347 83 352 79Q357 97 363 101Q368 82 372 79Q379 95 383 98Q388 79 391 75Q396 92 399 95Q403 77 404 74Q414 93 413 97Q416 78 419 75Q422 91 427 94Q434 77 434 74Q437 91 446 95Q447 75 454 71Q466 90 466 93Q469 73 471 70Q477 90 483 93Q480 73 489 69Q493 88 498 92Q502 73 505 70Q502 88 512 91Q518 73 521 70Q528 85 532 87Q528 71 536 68Q544 85 547 88Q549 69 551 65Q557 83 559 87Q560 66 564 63Q573 81 576 84M29 157Q37 173 36 176Q34 158 44 155Q45 173 52 177Q53 160 59 157Q64 172 68 175Q70 158 74 155Q78 171 82 174Q90 159 90 156Q89 172 100 175Q97 157 106 154Q106 169 116 171Q114 155 121 152Q121 167 132 170Q141 155 138 152Q147 168 148 170Q147 154 157 151Q161 168 165 170Q167 152 174 149Q175 164 182 167Q183 152 189 149Q196 166 199 169Q203 151 205 148Q208 164 215 167Q215 149 223 146Q225 162 231 164Q230 149 239 146Q244 161 248 164Q253 147 254 144Q258 159 265 162Q262 144 269 140Q271 161 281 165Q282 143 287 139Q294 157 298 160Q306 142 306 139Q310 157 316 160Q323 143 322 140Q327 155 330 157Q332 142 337 139Q341 153 348 156Q352 139 356 136Q365 155 368 159Q371 139 376 135Q382 154 383 157Q385 139 388 136Q390 152 398 155Q402 135 405 132Q412 150 414 153Q412 135 420 131Q424 151 429 154Q431 137 435 134Q445 151 445 153Q453 133 450 130Q454 149 461 152Q470 135 469 132"/></g>
<!--/ILLUSTRATION-->
</g>

<!-- ================= PANEL B ================= -->
<g id="panelB">
<text class="p" x="0.2" y="381.7"><tspan class="pp" dy="-0.8">(</tspan><tspan class="pi" dy="0.8">b</tspan><tspan class="pp" dy="-0.8">)</tspan></text>
<path class="ax" d="M126 372.4V717M114.8 372.4H127M114.8 441.3H126M114.8 510.2H126M114.8 579H126M114.8 647.9H126M114.8 717H641.9M211.8 717V727M383.8 717V727M555.8 717V727"/>
<text class="n" x="109.3" y="382.3">10</text>
<text class="n" x="109.3" y="451">8</text>
<text class="n" x="109.3" y="520">6</text>
<text class="n" x="109.3" y="588.6">4</text>
<text class="n" x="109.3" y="658">2</text>
<text class="n" x="109.3" y="726.5">0</text>
<text class="c" transform="translate(29.6 544.2) rotate(-90)">sediment load (kg m<tspan font-size="18" dy="-8.1">−2</tspan><tspan dy="8.1">)</tspan></text>
<!-- legend -->
<rect class="bk" x="202.8" y="457.4" width="17.7" height="17.4"/>
<rect class="wh" x="202.9" y="488.7" width="17.6" height="17.2"/>
<text class="l" x="227.6" y="472.6">cleared</text>
<text class="l" x="227.6" y="503.2">control</text>
<!-- bars -->
<rect class="bk" x="154.4" y="714.8" width="57.4" height="2.2"/>
<path class="eb" d="M240.6 700.5V696.6M226 696.6H255.2"/>
<rect class="wh" x="212" y="700.6" width="57.5" height="16.4"/>
<rect class="bk" x="326.9" y="714.8" width="56.9" height="2.2"/>
<path class="eb" d="M413 709V707.9M398 707.9H427.3"/>
<rect class="wh" x="384.2" y="709.2" width="57.8" height="7.8"/>
<path class="eb" d="M527 697.5V696M512.5 696H541.8"/>
<rect class="bk" x="499" y="697.7" width="56.6" height="19.3"/>
<path class="eb" d="M585 427V402.5M570.5 402.5H599.8"/>
<rect class="wh" x="556" y="427.5" width="58" height="289.5"/>
</g>

<!-- ================= PANEL C ================= -->
<g id="panelC">
<text class="p" x="0.2" y="788.9"><tspan class="pp" dy="-0.8">(</tspan><tspan class="pi" dy="0.8">c</tspan><tspan class="pp" dy="-0.8">)</tspan></text>
<path class="ax" d="M126 780.4V1124.5M114.8 780.4H127M114.8 866.4H126M114.8 952.4H126M114.8 1038.4H126M114.8 1124.5H641.9M211.6 1124.5V1135M383.8 1124.5V1135M555.8 1124.5V1135"/>
<text class="n" x="107.8" y="788.3">4000</text>
<text class="n" x="107.8" y="874.4">3000</text>
<text class="n" x="107.8" y="960.6">2000</text>
<text class="n" x="107.8" y="1046.8">1000</text>
<text class="n" x="107.8" y="1132.9">0</text>
<text class="c" transform="translate(29.5 952.8) rotate(-90)">bites (h<tspan font-size="18" dy="-8.1">−1</tspan><tspan dy="8.1"> m</tspan><tspan font-size="18" dy="-8.1">−2</tspan><tspan dy="8.1">)</tspan></text>
<!-- bars -->
<path class="eb" d="M182.8 1113V1109.4M168.1 1109.4H197.7"/>
<rect class="bk" x="154.2" y="1113.6" width="57.4" height="10.9"/>
<path class="eb" d="M240.4 1121.8V1120.5M225.8 1120.5H255"/>
<rect class="wh" x="212" y="1121.9" width="57.4" height="2.6"/>
<path class="eb" d="M355 906V836.9M340.3 836.9H369.7"/>
<rect class="bk" x="326.7" y="906.3" width="57" height="218.2"/>
<path class="eb" d="M412.5 1064V1044.3M398 1044.3H427.3"/>
<rect class="wh" x="384.2" y="1064" width="57.8" height="60.5"/>
<path class="eb" d="M527 907V828.2M512.4 828.2H542"/>
<rect class="bk" x="498.9" y="907.5" width="56.6" height="217"/>
<path class="eb" d="M585 1099V1086.8M570.5 1086.8H599.8"/>
<rect class="wh" x="556" y="1099" width="58" height="25.5"/>
<text class="c" x="213.3" y="1157.5">base</text>
<text class="c" x="382.8" y="1157.5">crest</text>
<text class="c" x="558.5" y="1157.5">flat</text>
</g>
</svg>
</body>
</html>
